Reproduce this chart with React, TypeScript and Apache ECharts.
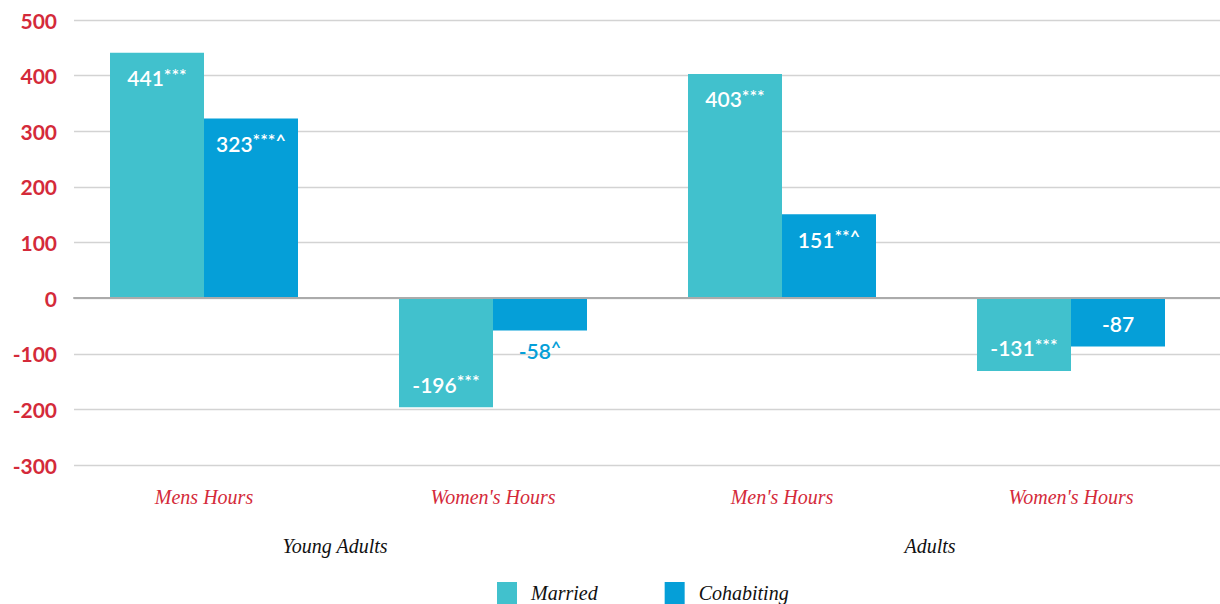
import React, { useEffect, useRef } from "react";
import * as echarts from "echarts";

const categories = ["Mens Hours", "Women's Hours", "Men's Hours", "Women's Hours"];
const groupLabels = ["Young Adults", "Adults"];
const seriesNames = ["Married", "Cohabiting"];
const married = [441, -196, 403, -131];
const cohabiting = [323, -58, 151, -87];
const marriedSig = ["***", "***", "***", "***"];
const cohabitingSig = ["***^", "^", "**^", ""];
const yTicks = { min: -300, max: 500, interval: 100 };

const MARRIED_COLOR = "#41c1cd";
const COHAB_COLOR = "#059fd8";
const RED = "#d42a3a";
const SANS = "Lato, 'Noto Sans', sans-serif";
const SERIF = "'Liberation Serif', 'DejaVu Serif', serif";

function labelFor(value: number, sig: string, barColor: string) {
  const short = Math.abs(value) < 70;
  const position = value >= 0 ? "insideTop" : short ? "bottom" : "insideBottom";
  const textColor = short ? barColor : "#ffffff";
  return {
    show: true,
    position,
    distance: value >= 0 ? 13 : short ? 8 : 11,
    formatter: () => (sig ? `{n|${value}}{s|${sig}}` : `{n|${value}}`),
    rich: {
      n: { fontFamily: SANS, fontSize: 21, fontWeight: 600, color: textColor, lineHeight: 24 },
      s: { fontFamily: SANS, fontSize: 18, fontWeight: 600, color: textColor, verticalAlign: "top", lineHeight: 24 },
    },
  };
}

export default function App() {
  const ref = useRef<HTMLDivElement>(null);
  useEffect(() => {
    if (!ref.current) return;
    const chart = echarts.init(ref.current, null, { renderer: "svg" });
    const option = {
      animation: false,
      backgroundColor: "#ffffff",
      grid: [
        { left: 74, right: 0, top: 20, bottom: 139 },
        { left: 59.5, right: 4.5, top: 20, bottom: 139 },
      ],
      legend: {
        data: seriesNames,
        left: 492,
        top: 577,
        itemWidth: 20,
        itemHeight: 22,
        itemGap: 67,
        icon: "rect",
        textStyle: { fontFamily: SERIF, fontStyle: "italic", fontSize: 20, color: "#111", padding: [0, 0, 0, 9] },
      },
      xAxis: [
        {
          type: "category",
          gridIndex: 0,
          data: categories,
          z: 5,
          axisLine: { show: true, onZero: true, lineStyle: { color: "#ababab", width: 2 } },
          axisTick: { show: false },
          axisLabel: { show: false },
          splitLine: { show: false },
        },
        {
          type: "category",
          gridIndex: 1,
          data: categories,
          axisLine: { show: false },
          axisTick: { show: false },
          axisLabel: {
            margin: 22,
            fontFamily: SERIF,
            fontStyle: "italic",
            fontSize: 20,
            color: RED,
          },
        },
      ],
      yAxis: [
        {
          type: "value",
          gridIndex: 0,
          min: yTicks.min,
          max: yTicks.max,
          interval: yTicks.interval,
          axisLine: { show: false },
          axisTick: { show: false },
          axisLabel: {
            margin: 17,
            fontFamily: SANS,
            fontSize: 21,
            fontWeight: 700,
            color: RED,
          },
          splitLine: { lineStyle: { color: "#d3d3d3", width: 1.3 } },
        },
        {
          type: "value",
          gridIndex: 1,
          min: yTicks.min,
          max: yTicks.max,
          interval: yTicks.interval,
          show: false,
          splitLine: { show: false },
        },
      ],
      graphic: [
        {
          type: "text",
          x: 335,
          y: 546,
          style: { text: groupLabels[0], fontFamily: SERIF, fontStyle: "italic", fontSize: 20, fill: "#111", align: "center", verticalAlign: "middle" },
        },
        {
          type: "text",
          x: 930,
          y: 546,
          style: { text: groupLabels[1], fontFamily: SERIF, fontStyle: "italic", fontSize: 20, fill: "#111", align: "center", verticalAlign: "middle" },
        },
      ],
      series: [
        {
          name: seriesNames[0],
          type: "bar",
          xAxisIndex: 1,
          yAxisIndex: 1,
          barWidth: 94,
          barGap: "0%",
          itemStyle: { color: MARRIED_COLOR },
          data: married.map((v, i) => ({ value: v, label: labelFor(v, marriedSig[i], MARRIED_COLOR) })),
        },
        {
          name: seriesNames[1],
          type: "bar",
          xAxisIndex: 1,
          yAxisIndex: 1,
          barWidth: 94,
          barGap: "0%",
          itemStyle: { color: COHAB_COLOR },
          data: cohabiting.map((v, i) => ({ value: v, label: labelFor(v, cohabitingSig[i], COHAB_COLOR) })),
        },
      ],
    };
    chart.setOption(option as any);
    return () => chart.dispose();
  }, []);
  return <div ref={ref} style={{ width: 1220, height: 604, position: "absolute", left: 0, top: 0 }} />;
}
